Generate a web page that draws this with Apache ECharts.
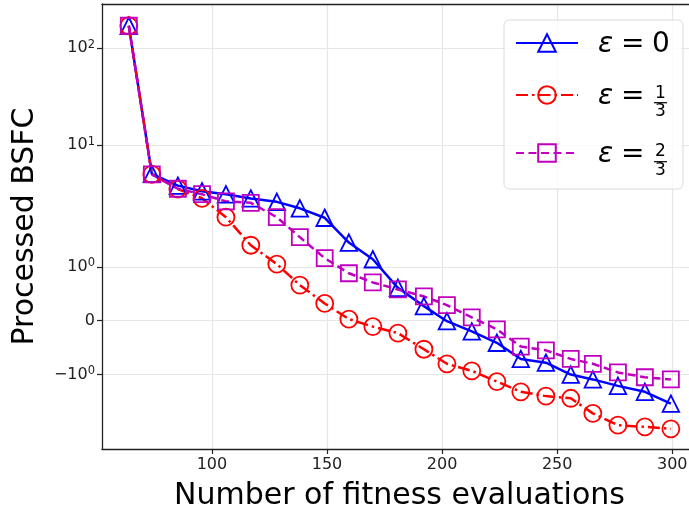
<!DOCTYPE html>
<html>
<head>
<meta charset="utf-8">
<script src="https://cdn.jsdelivr.net/npm/echarts@6/dist/echarts.min.js"></script>
<style>
html, body { margin: 0; padding: 0; background: #fff; }
#chart { width: 689px; height: 513px; }
</style>
</head>
<body>
<div id="chart"></div>
<script>
// x: number of fitness evaluations, y: processed BSFC (symlog axis, linthresh 2)
var evals = [63.9, 73.9, 85.2, 95.7, 106.1, 116.9, 128.2, 138.2, 149.0, 159.5, 169.9, 180.8,
             192.1, 202.1, 212.9, 223.8, 234.2, 245.1, 255.9, 265.5, 276.4, 288.1, 299.4];
var eps0 = [170, 5.05, 3.82, 3.34, 3.11, 2.82, 2.6, 2.23, 1.91, 1.45, 1.14, 0.61,
            0.27, -0.01, -0.20, -0.41, -0.71, -0.78, -1.00, -1.09, -1.21, -1.32, -1.54];
var eps13 = [170, 5.0, 3.53, 2.83, 1.92, 1.40, 1.05, 0.66, 0.32, 0.03, -0.11, -0.23,
             -0.53, -0.80, -0.93, -1.13, -1.32, -1.40, -1.44, -1.72, -1.94, -1.97, -2.02];
var eps23 = [170, 5.0, 3.55, 3.12, 2.63, 2.54, 1.92, 1.55, 1.16, 0.88, 0.71, 0.58,
             0.45, 0.29, 0.06, -0.16, -0.48, -0.55, -0.71, -0.80, -0.96, -1.05, -1.09];

var xTicks = [100, 150, 200, 250, 300];
var yTicks = [100, 10, 1, 0, -1];
var yTickLabels = ['10{s|2}', '10{s|1}', '10{s|0}', '0', '−10{s|0}'];

var LINTHRESH = 2;
var LINSCALE = 1 / (1 - 1 / 10);
function symlog(v) {
    var a = Math.abs(v);
    if (a <= LINTHRESH) return v / LINTHRESH * LINSCALE;
    return Math.sign(v) * (LINSCALE + Math.log10(a / LINTHRESH));
}
function pairs(ys) {
    return evals.map(function (x, i) { return [x, symlog(ys[i])]; });
}

var FONT = 'DejaVu Sans';
var yTickPos = yTicks.map(symlog);

function mkSeries(name, ys, color, symbol, size, dash) {
    return {
        name: name,
        type: 'line',
        data: pairs(ys),
        symbol: symbol,
        symbolSize: size,
        showSymbol: true,
        lineStyle: { color: color, width: 2.5, type: dash },
        itemStyle: { color: 'transparent', borderColor: color, borderWidth: 1.8 },
        emphasis: { disabled: true }
    };
}

var names = ['e0', 'e13', 'e23'];
var legendTops = [32, 84, 142];

var chart = echarts.init(document.getElementById('chart'));
var option = {
    animation: false,
    textStyle: { fontFamily: FONT },
    grid: { left: 102, top: 4, right: -8, bottom: 64, containLabel: false, outerBoundsMode: 'none' },
    xAxis: [{
        type: 'value',
        min: 52.25,
        max: 310.75,
        name: 'Number of fitness evaluations',
        nameLocation: 'middle',
        nameGap: 32,
        nameTextStyle: { fontSize: 30, color: '#000', fontFamily: FONT },
        axisLine: { onZero: false, lineStyle: { color: '#222', width: 1.3 } },
        axisTick: { show: true, length: 5, lineStyle: { color: '#222', width: 1.2 }, customValues: xTicks },
        axisLabel: { fontSize: 16, color: '#222', margin: 8, customValues: xTicks },
        splitLine: { show: true, lineStyle: { color: '#e6e6e6', width: 1.2 } }
    }, {
        type: 'value',
        position: 'top',
        min: 52.25,
        max: 310.75,
        axisLine: { show: true, onZero: false, lineStyle: { color: '#222', width: 1.3 } },
        axisTick: { show: false },
        axisLabel: { show: false },
        splitLine: { show: false }
    }],
    yAxis: {
        type: 'value',
        min: -1.323,
        max: 3.265,
        name: 'Processed BSFC',
        nameLocation: 'middle',
        nameGap: 62,
        nameTextStyle: { fontSize: 30, color: '#000', fontFamily: FONT },
        axisLine: { show: true, onZero: false, lineStyle: { color: '#222', width: 1.3 } },
        axisTick: { show: true, length: 5, lineStyle: { color: '#222', width: 1.2 }, customValues: yTickPos },
        axisLabel: {
            fontSize: 16, color: '#222', margin: 7,
            customValues: yTickPos,
            formatter: function (v) {
                var best = 0;
                for (var i = 1; i < yTickPos.length; i++) {
                    if (Math.abs(yTickPos[i] - v) < Math.abs(yTickPos[best] - v)) best = i;
                }
                return yTickLabels[best];
            },
            rich: {
                s: { fontSize: 11.5, color: '#222', fontFamily: FONT, verticalAlign: 'bottom', padding: [0, 0, 7, 0] }
            }
        },
        splitLine: { show: true, lineStyle: { color: '#e6e6e6', width: 1.2 } }
    },
    legend: names.map(function (n, i) {
        return {
            data: [n], left: 515, top: legendTops[i], orient: 'vertical', padding: 0,
            itemWidth: 62, itemHeight: 22, selectedMode: false, z: 6,
            formatter: function () { return ''; }
        };
    }),
    graphic: [
        { type: 'rect', z: 3, shape: { x: 504, y: 20, width: 179, height: 169, r: 5 },
          style: { fill: 'rgba(255,255,255,0.8)', stroke: '#dadada', lineWidth: 1 } },
        // row 1
        { type: 'text', z: 10, x: 598, y: 45, style: { text: 'ε', font: 'italic 28px "DejaVu Sans"', fill: '#000', verticalAlign: 'middle' } },
        { type: 'text', z: 10, x: 621, y: 45, style: { text: '=', font: '28px "DejaVu Sans"', fill: '#000', verticalAlign: 'middle' } },
        { type: 'text', z: 10, x: 652, y: 45, style: { text: '0', font: '28px "DejaVu Sans"', fill: '#000', verticalAlign: 'middle' } },
        // row 2
        { type: 'text', z: 10, x: 598, y: 97, style: { text: 'ε', font: 'italic 28px "DejaVu Sans"', fill: '#000', verticalAlign: 'middle' } },
        { type: 'text', z: 10, x: 621, y: 97, style: { text: '=', font: '28px "DejaVu Sans"', fill: '#000', verticalAlign: 'middle' } },
        { type: 'text', z: 10, x: 660.5, y: 93.5, style: { text: '1', font: '17px "DejaVu Sans"', fill: '#000', align: 'center', verticalAlign: 'middle' } },
        { type: 'line', z: 10, shape: { x1: 654, y1: 102.7, x2: 667, y2: 102.7 }, style: { stroke: '#000', lineWidth: 1.2 } },
        { type: 'text', z: 10, x: 660.5, y: 112, style: { text: '3', font: '17px "DejaVu Sans"', fill: '#000', align: 'center', verticalAlign: 'middle' } },
        // row 3
        { type: 'text', z: 10, x: 598, y: 155, style: { text: 'ε', font: 'italic 28px "DejaVu Sans"', fill: '#000', verticalAlign: 'middle' } },
        { type: 'text', z: 10, x: 621, y: 155, style: { text: '=', font: '28px "DejaVu Sans"', fill: '#000', verticalAlign: 'middle' } },
        { type: 'text', z: 10, x: 660.5, y: 152, style: { text: '2', font: '17px "DejaVu Sans"', fill: '#000', align: 'center', verticalAlign: 'middle' } },
        { type: 'line', z: 10, shape: { x1: 654, y1: 161.7, x2: 667, y2: 161.7 }, style: { stroke: '#000', lineWidth: 1.2 } },
        { type: 'text', z: 10, x: 660.5, y: 170.7, style: { text: '3', font: '17px "DejaVu Sans"', fill: '#000', align: 'center', verticalAlign: 'middle' } }
    ],
    series: [
        mkSeries('e0', eps0, '#0000ff', 'triangle', 16.5, 'solid'),
        mkSeries('e13', eps13, '#ff0000', 'circle', 17, [12, 4, 2.5, 4]),
        mkSeries('e23', eps23, '#bf00bf', 'rect', 16, [8, 4.5])
    ]
};
chart.setOption(option);
</script>
</body>
</html>
